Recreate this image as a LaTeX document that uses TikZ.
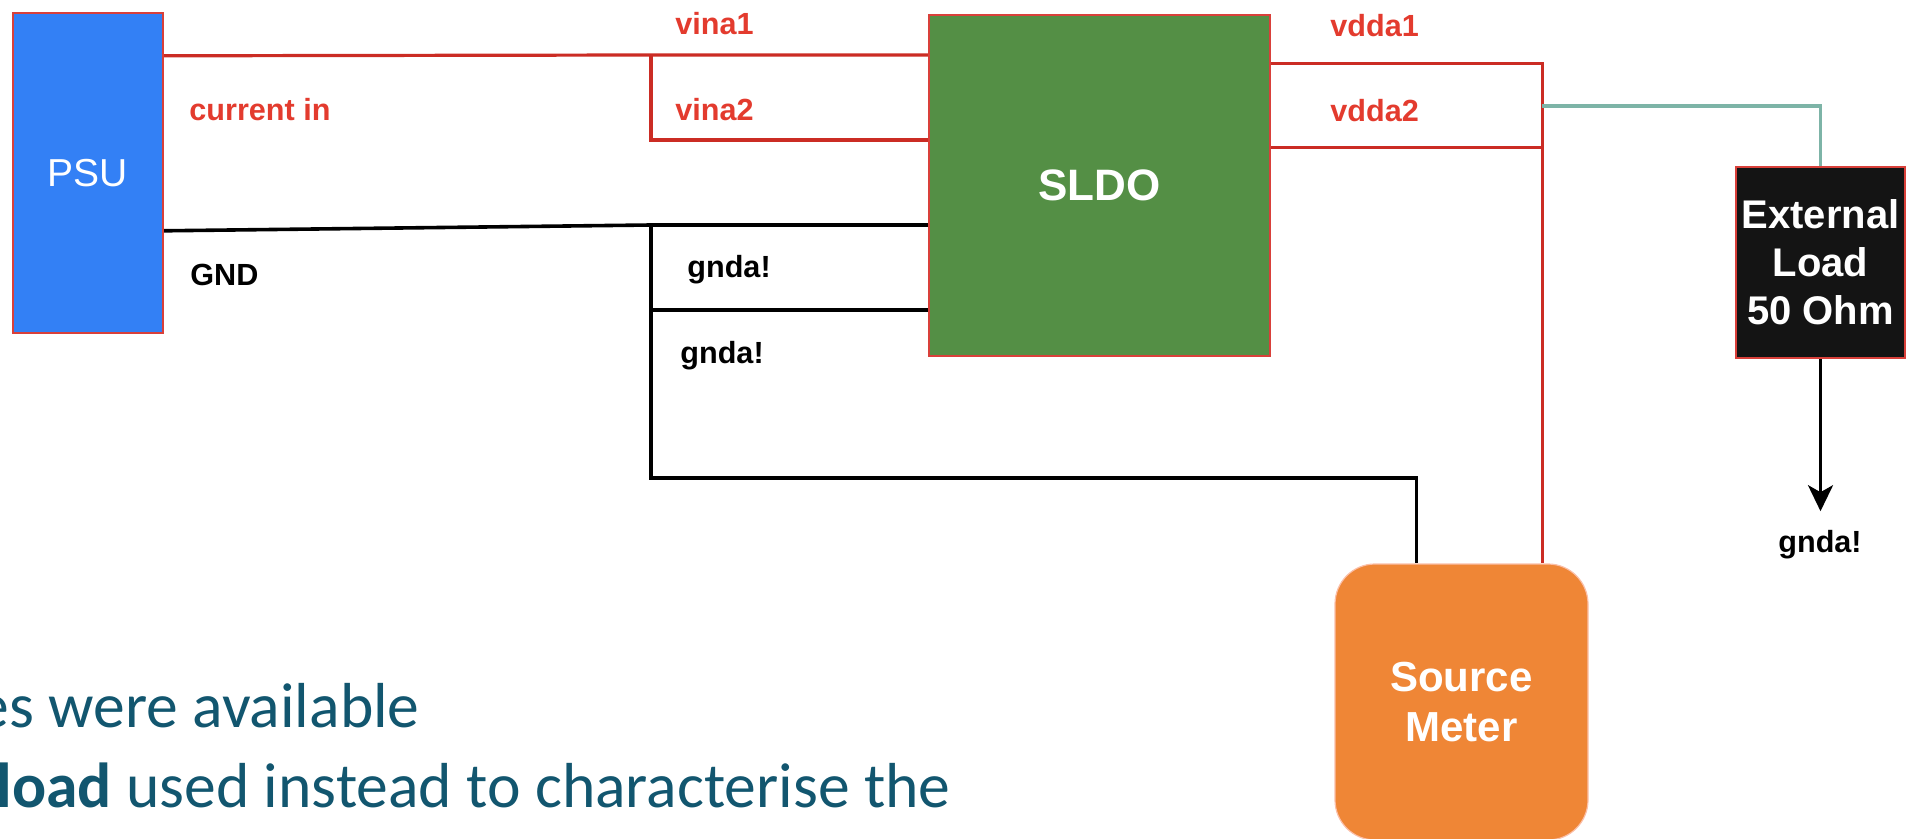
\documentclass[tikz,border=0pt]{standalone}
\usepackage{fontspec}
\setmainfont{Liberation Sans}
\newfontfamily\carl{Carlito}
\usetikzlibrary{arrows.meta,calc}
\definecolor{psublue}{HTML}{3380F5}
\definecolor{sldogreen}{HTML}{548F45}
\definecolor{smorange}{HTML}{EF8636}
\definecolor{extblack}{HTML}{141414}
\definecolor{wirered}{HTML}{CB2C24}
\definecolor{labred}{HTML}{E33B2E}
\definecolor{wireteal}{HTML}{7DB4A7}
\definecolor{slidetext}{HTML}{12566F}
\definecolor{bordred}{HTML}{D9403A}
\tikzset{
  blockbox/.style={rectangle, inner sep=0pt, draw=bordred, line width=1.2pt, text=white},
  redwire/.style={draw=wirered, line width=1.6pt, line join=miter},
  blackwire/.style={draw=black, line width=1.8pt, line join=miter},
  tealwire/.style={draw=wireteal, line width=1.6pt},
  redlab/.style={text=labred, font=\fontsize{15.3}{18}\selectfont\bfseries, inner sep=0pt, anchor=west},
  blacklab/.style={text=black, font=\fontsize{15.3}{18}\selectfont\bfseries, inner sep=0pt, anchor=west},
}
\begin{document}
\begin{tikzpicture}[x=0.5pt, y=-0.5pt]
\useasboundingbox (0,0) rectangle (1906,839);
\clip (0,0) rectangle (1906,839);
% blocks
\node[blockbox, fill=psublue, minimum width=75pt, minimum height=160pt,
  font=\fontsize{19.5}{23}\selectfont] (PSU) at (88,173) {PSU};
\node[blockbox, fill=sldogreen, minimum width=170.5pt, minimum height=170.5pt,
  font=\fontsize{22}{26}\selectfont\bfseries] (SLDO) at (1099.5,185.5) {SLDO};
\node[blockbox, fill=extblack, minimum width=84.5pt, minimum height=95.5pt,
  align=center, font=\fontsize{20}{24}\selectfont\bfseries] (EXT) at (1820.5,262.5) {External\\Load\\50 Ohm};
\node[rectangle, rounded corners=20pt, fill=smorange, draw=smorange!70!red!40, line width=0.6pt,
  minimum width=126.5pt, minimum height=138pt, inner sep=0pt, text=white,
  align=center, font=\fontsize{21}{25}\selectfont\bfseries] (SM) at (1461.5,702) {Source\\Meter};
% named junctions
\coordinate (b1) at (651,55);
\coordinate (b2) at (651,140);
\coordinate (g1) at (651,225);
\coordinate (g2) at (651,310);
\coordinate (g3) at (651,478);
\coordinate (smg) at ($(SM.north west)+(82,0)$);
\coordinate (smr) at ($(SM.north west)+(208,0)$);
\coordinate (sa) at ($(SLDO.north east)+(0,50)$);
\coordinate (sb) at ($(SLDO.north east)+(0,134)$);
\coordinate (v1) at (sa -| smr);
\coordinate (v2) at (sb -| smr);
\coordinate (t1) at (smr |- 0,106);
\coordinate (t2) at (EXT.north |- 0,106);
\coordinate (gend) at ($(EXT.south)+(0,152)$);
% red input wires
\draw[redwire] ($(PSU.north east)+(0,44)$) -- (b1) -- (b1 -| SLDO.west);
\draw[redwire] (b1) -- (b2) -- (b2 -| SLDO.west);
% ground wires
\draw[blackwire] ($(PSU.north east)+(0,219)$) -- (g1) -- (g1 -| SLDO.west);
\draw[blackwire] (g1) -- (g2) -- (g2 -| SLDO.west);
\draw[blackwire] (g2) -- (g3) -- (g3 -| smg) -- (smg);
% red output wires
\draw[redwire] (sa) -- (v1) -- (smr);
\draw[redwire] (sb) -- (v2);
% teal to load
\draw[tealwire] (t1) -- (t2) -- (EXT.north);
% load to ground
\draw[black, line width=1.6pt, -{Stealth[length=13pt, width=12.5pt, inset=3.5pt]}] (EXT.south) -- (gend);
% labels
\node[redlab] (lcur) at (189,110) {current in};
\node[redlab] (lv1) at (675,24) {vina1};
\node[redlab] (lv2) at (675,110) {vina2};
\node[blacklab] (lgnd) at (190,275) {GND};
\node[blacklab] (lg1) at (687,270) {gnda!};
\node[blacklab] (lg2) at (680,356) {gnda!};
\node[redlab] (ld1) at (1330,26) {vdda1};
\node[redlab] (ld2) at (1330,111) {vdda2};
\node[blacklab, anchor=center] (lg3) at (1820,545) {gnda!};
% slide text (cropped)
\node[anchor=base east, inner sep=0pt, text=slidetext, font=\carl\fontsize{31.8}{38}\selectfont] (s1) at (420,727) {es were available};
\node[anchor=base east, inner sep=0pt, text=slidetext, font=\carl\fontsize{31.8}{38}\selectfont] (s2) at (951,807) {\textbf{load} used instead to characterise the};
\end{tikzpicture}
\end{document}
